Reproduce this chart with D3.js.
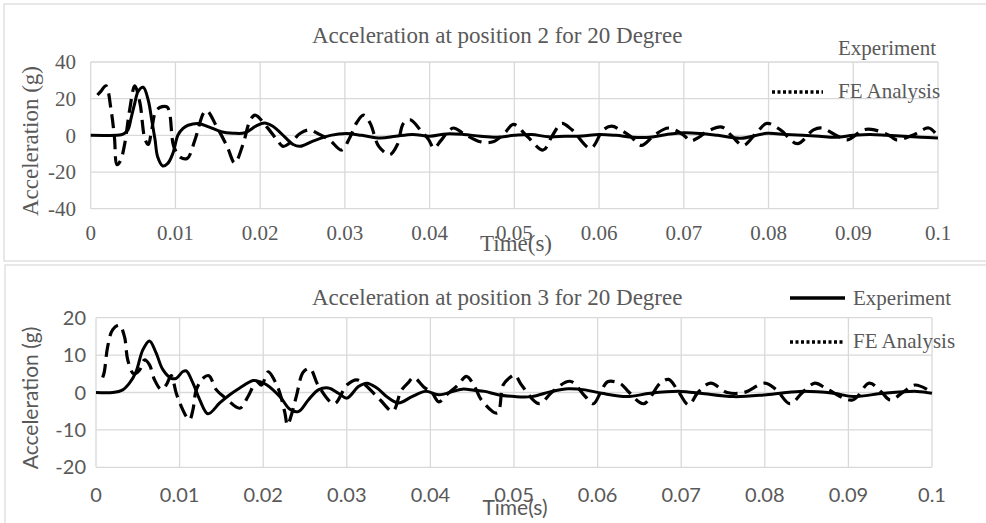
<!DOCTYPE html>
<html>
<head>
<meta charset="utf-8">
<style>
  body { margin: 0; background: #fff; }
  svg { display: block; }
</style>
</head>
<body>
<svg width="986" height="523"></svg>
<script src="https://d3js.org/d3.v7.min.js"></script>
<script>
// position 2 - experiment (time s, accel g)
var p2ExpT = [0, 0.003, 0.0036, 0.004, 0.0044, 0.0048, 0.0052, 0.0056, 0.0062, 0.0068, 0.0072, 0.0076, 0.0079, 0.0085, 0.0091, 0.0097, 0.0103, 0.0109, 0.0115, 0.0127, 0.014, 0.0154, 0.0168, 0.0182, 0.0195, 0.0205, 0.0215, 0.0225, 0.0239, 0.0247, 0.0263, 0.0283, 0.0302, 0.032, 0.0342, 0.036, 0.038, 0.04, 0.042, 0.044, 0.046, 0.048, 0.05, 0.052, 0.054, 0.056, 0.058, 0.06, 0.062, 0.064, 0.066, 0.068, 0.07, 0.072, 0.074, 0.0767, 0.0798, 0.082, 0.084, 0.086, 0.088, 0.09, 0.092, 0.094, 0.096, 0.098, 0.1];
var p2ExpA = [0, 0, 0.3, 1.1, 3, 10, 17.5, 24, 26.2, 19, 8.4, -2.6, -11.7, -16.7, -15.3, -9.8, 0.2, 3.8, 5.5, 6.5, 4.5, 2, 1.2, 1.4, 5, 6.8, 5, 1, -5, -6, -3, 0, 1, 0, -1.5, -0.5, 0.5, -0.5, 0.8, 0.5, -0.5, -1, 0, 0.5, -0.8, -0.5, -0.3, 0.5, 0, -1, -1, 0.5, 1.4, 1, 0, -1.6, 1.1, 0.5, 0, -0.5, -1, 0, 0.5, 0, -0.5, -1, -1.5];

// position 2 - FE analysis
var p2FeT = [0.0008, 0.0012, 0.0018, 0.0024, 0.0028, 0.0031, 0.0035, 0.004, 0.0046, 0.0052, 0.0058, 0.0064, 0.0068, 0.0072, 0.0078, 0.009, 0.0098, 0.0106, 0.0114, 0.0123, 0.0133, 0.0137, 0.0149, 0.0161, 0.017, 0.018, 0.0188, 0.0194, 0.0208, 0.022, 0.0227, 0.0238, 0.0247, 0.0258, 0.0268, 0.0282, 0.0296, 0.0306, 0.0314, 0.0322, 0.033, 0.034, 0.0353, 0.0362, 0.0369, 0.0377, 0.0389, 0.0399, 0.0405, 0.0413, 0.042, 0.0428, 0.044, 0.046, 0.0475, 0.0488, 0.0499, 0.0515, 0.0534, 0.0545, 0.0556, 0.0568, 0.059, 0.0605, 0.0615, 0.0625, 0.0637, 0.065, 0.0665, 0.0682, 0.07, 0.0708, 0.0718, 0.0727, 0.0745, 0.0757, 0.077, 0.0785, 0.0798, 0.0814, 0.0834, 0.0853, 0.0863, 0.088, 0.0893, 0.0912, 0.0925, 0.0944, 0.0951, 0.097, 0.0989, 0.0999];
var p2FeA = [22, 24, 27, 14, -1, -16, -14, -5, 14, 27, 18, -2, -5, 3, 14, 15.5, -6, -12, -12.5, -2.5, 12, 13.5, 4.5, -6, -15, -4.5, 8, 11, 4.5, -2.5, -6, -3, 1, 3, 1, -2.5, -8, -1, 7, 11, 6.5, -6, -10.5, -5, 6.5, 8.5, 3, -2.5, -7, -3, 1, 4, 1, -3.5, -3.5, 1, 6, -0.5, -8, 0, 6.5, 3, -7, 3, 5, 3, -0.5, -5.5, 0, 4, 0, -3, -1, 2, 4.5, -0.5, -5.5, 1, 6.5, 3, -4.5, 3, 4, 0, -2.5, 3, 3, -0.5, -2.5, 0, 4, 0];

// position 3 - experiment
var p3ExpT = [0, 0.002, 0.0032, 0.004, 0.0048, 0.0056, 0.0064, 0.0072, 0.008, 0.009, 0.0096, 0.0104, 0.0108, 0.0116, 0.0124, 0.0134, 0.0148, 0.016, 0.0172, 0.0188, 0.0196, 0.0204, 0.022, 0.0232, 0.0242, 0.0254, 0.0266, 0.0278, 0.029, 0.03, 0.0314, 0.0324, 0.0336, 0.035, 0.0362, 0.0378, 0.0394, 0.041, 0.0438, 0.0452, 0.0465, 0.0481, 0.0501, 0.0521, 0.0545, 0.0565, 0.0585, 0.0605, 0.0635, 0.0663, 0.0699, 0.0723, 0.0763, 0.0802, 0.0842, 0.0882, 0.0906, 0.0942, 0.0982, 0.1];
var p3ExpA = [0, 0, 0.7, 2.5, 5.6, 11.4, 13.8, 10.5, 6.1, 3.8, 3.8, 5.6, 5.8, 2.5, -1.9, -5.7, -2.8, -0.6, 1.2, 3.2, 2.9, 2.1, -1.1, -4.5, -5.1, -2, 0.7, 1.2, -0.2, -1.5, 1.6, 2.5, 1.2, -1.5, -2.8, -1.1, 0.3, -0.6, 0.9, 0.6, 0.3, -0.6, -1.1, -1.1, 0.3, 1, 0.7, -0.2, -1.1, -0.2, 0.3, -0.2, -1.1, -0.6, 0.3, -0.2, -1.1, -0.2, 0.3, -0.2];

// position 3 - FE analysis
var p3FeT = [0.0008, 0.001, 0.0014, 0.002, 0.0028, 0.0034, 0.0038, 0.0045, 0.0052, 0.0058, 0.0064, 0.007, 0.0078, 0.0084, 0.009, 0.0096, 0.0102, 0.0108, 0.0112, 0.0116, 0.012, 0.0128, 0.0135, 0.0144, 0.0155, 0.0172, 0.0182, 0.0192, 0.0198, 0.0206, 0.0214, 0.022, 0.0226, 0.0229, 0.0235, 0.024, 0.0248, 0.0256, 0.0266, 0.0285, 0.03, 0.0312, 0.0322, 0.034, 0.0355, 0.0365, 0.0373, 0.038, 0.0392, 0.0402, 0.041, 0.042, 0.0433, 0.0443, 0.0452, 0.0461, 0.048, 0.0487, 0.0495, 0.0501, 0.0509, 0.053, 0.0545, 0.0567, 0.0585, 0.0595, 0.0605, 0.0612, 0.0627, 0.0637, 0.0655, 0.0675, 0.0685, 0.0696, 0.0709, 0.072, 0.0735, 0.0755, 0.0775, 0.08, 0.0814, 0.083, 0.0845, 0.086, 0.0874, 0.0905, 0.0925, 0.094, 0.095, 0.0965, 0.098, 0.1];
var p3FeA = [4, 5.6, 12.3, 16.8, 18, 15, 8.7, 5, 6, 8.7, 7.4, 3.4, 0.8, 2, 4.5, -0.2, -3.7, -6.4, -7.3, -4.6, 0.7, 3.8, 4.5, 0.7, -1.5, -4.2, -1, 2.9, 2, 5.5, 3, -0.2, -5.5, -8.7, -5, -0.7, 5.5, 6.4, 1.8, -3, 2, 3.4, 2, -2, -5, 0.5, 2.5, 4, 1.5, -0.1, -2.5, -0.5, 2, 4.3, 2, -2, -5.5, 2, 4, 4.7, 2, -3, 0, 3, -1, -3, 0.7, 2.9, 2.4, 0.2, -3, 2.5, 3.5, 0.5, -3.3, 0, 2.5, 0, 0, 2.5, 0.7, -3, 0, 2.5, 1, -2, 2.5, 0, -2, 0, 2, 0];

var xTicks = [0, 0.01, 0.02, 0.03, 0.04, 0.05, 0.06, 0.07, 0.08, 0.09, 0.1];
var p2YTicks = [-40, -20, 0, 20, 40];
var p3YTicks = [-20, -10, 0, 10, 20];

var svg = d3.select("svg");
var grey = "#595959", gridCol = "#d9d9d9";
var serif = "'Liberation Serif', 'Times New Roman', serif";
var sans = "Lato, 'Open Sans', sans-serif";

function zip(t, a) { return t.map(function(d, i) { return [d, a[i]]; }); }

function panel(o) {
  var g = svg.append("g");
  g.append("rect").attr("x", o.box[0]).attr("y", o.box[1]).attr("width", o.box[2]).attr("height", o.box[3])
    .attr("fill", "#fff").attr("stroke", gridCol).attr("stroke-width", 1.2);

  var x = d3.scaleLinear().domain([0, 0.1]).range([o.left, o.right]);
  var y = d3.scaleLinear().domain([o.yTicks[0], o.yTicks[o.yTicks.length - 1]]).range([o.bottom, o.top]);

  // grid
  g.append("g").selectAll("line").data(xTicks).enter().append("line")
    .attr("x1", function(d) { return x(d); }).attr("x2", function(d) { return x(d); })
    .attr("y1", o.top).attr("y2", o.bottom).attr("stroke", gridCol).attr("stroke-width", 1.3);
  g.append("g").selectAll("line").data(o.yTicks).enter().append("line")
    .attr("x1", o.left).attr("x2", o.right)
    .attr("y1", function(d) { return y(d); }).attr("y2", function(d) { return y(d); })
    .attr("stroke", gridCol).attr("stroke-width", 1.3);

  // tick labels
  g.append("g").selectAll("text").data(xTicks).enter().append("text")
    .attr("x", function(d) { return x(d); }).attr("y", o.xLabY)
    .attr("text-anchor", "middle").attr("fill", grey)
    .attr("font-family", o.tickFont).attr("font-size", o.tickSize)
    .text(function(d) { return d; });
  g.append("g").selectAll("text").data(o.yTicks).enter().append("text")
    .attr("x", o.yLabX).attr("y", function(d) { return y(d); }).attr("dy", "0.35em")
    .attr("text-anchor", "end").attr("fill", grey)
    .attr("font-family", o.tickFont).attr("font-size", o.tickSize)
    .text(function(d) { return d; });

  // series
  var line = d3.line().x(function(d) { return x(d[0]); }).y(function(d) { return y(d[1]); })
    .curve(d3.curveCatmullRom.alpha(0.5));
  g.append("path").datum(zip(o.feT, o.feA)).attr("d", line)
    .attr("fill", "none").attr("stroke", "#000").attr("stroke-width", 3.2)
    .attr("stroke-dasharray", "14,7");
  g.append("path").datum(zip(o.expT, o.expA)).attr("d", line)
    .attr("fill", "none").attr("stroke", "#000").attr("stroke-width", 3)
    .attr("stroke-linejoin", "round");

  // titles
  g.append("text").attr("x", o.titleX).attr("y", o.titleY).attr("fill", grey)
    .attr("font-family", serif).attr("font-size", 23).text(o.title);
  g.append("text").attr("x", o.timeX).attr("y", o.timeY).attr("text-anchor", "middle").attr("fill", grey)
    .attr("font-family", o.axisFont).attr("font-size", o.axisSize).text("Time(s)");
  g.append("text").attr("transform", "translate(" + o.accX + "," + o.accY + ") rotate(-90)")
    .attr("text-anchor", "middle").attr("fill", grey)
    .attr("font-family", o.axisFont).attr("font-size", o.axisSize).text("Acceleration (g)");

  // legend
  var lg = g.append("g");
  if (o.showExpSample) {
    lg.append("line").attr("x1", o.legSampleX[0]).attr("x2", o.legSampleX[1])
      .attr("y1", o.legY[0] - 7).attr("y2", o.legY[0] - 7)
      .attr("stroke", "#000").attr("stroke-width", 3.5);
  }
  lg.append("line").attr("x1", o.legSampleX[0]).attr("x2", o.legSampleX[1])
    .attr("y1", o.legY[1] - 6).attr("y2", o.legY[1] - 6)
    .attr("stroke", "#000").attr("stroke-width", 3.5).attr("stroke-dasharray", "3,2.5");
  lg.append("text").attr("x", o.legTextX).attr("y", o.legY[0]).attr("fill", grey)
    .attr("font-family", serif).attr("font-size", 21).text("Experiment");
  lg.append("text").attr("x", o.legTextX).attr("y", o.legY[1]).attr("fill", grey)
    .attr("font-family", serif).attr("font-size", 21).text("FE Analysis");
}

panel({
  box: [4, 4, 990, 257],
  left: 90.7, right: 938, top: 62, bottom: 208.7,
  yTicks: p2YTicks, expT: p2ExpT, expA: p2ExpA, feT: p2FeT, feA: p2FeA,
  tickFont: serif, tickSize: 21, xLabY: 240, yLabX: 76,
  axisFont: serif, axisSize: 23, timeX: 516, timeY: 251, accX: 38, accY: 141,
  title: "Acceleration at position 2 for 20 Degree", titleX: 312, titleY: 43,
  showExpSample: false, legSampleX: [772, 823], legTextX: 838, legY: [55, 98]
});

panel({
  box: [5, 265, 990, 270],
  left: 96, right: 932, top: 317.7, bottom: 467.3,
  yTicks: p3YTicks, expT: p3ExpT, expA: p3ExpA, feT: p3FeT, feA: p3FeA,
  tickFont: sans, tickSize: 20, xLabY: 502, yLabX: 86,
  axisFont: sans, axisSize: 21, timeX: 515, timeY: 515, accX: 38, accY: 398,
  title: "Acceleration at position 3 for 20 Degree", titleX: 312, titleY: 305,
  showExpSample: true, legSampleX: [790, 845], legTextX: 853, legY: [305, 348]
});
</script>
</body>
</html>
